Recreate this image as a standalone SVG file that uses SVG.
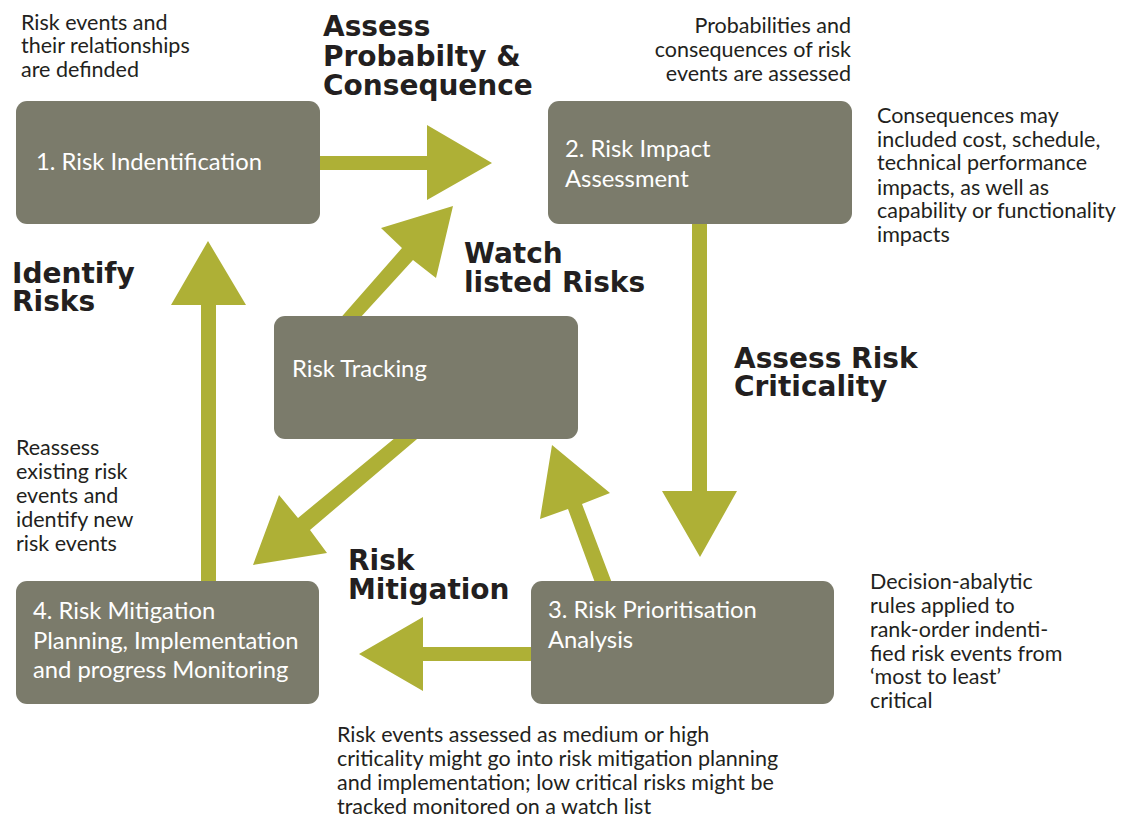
<svg xmlns="http://www.w3.org/2000/svg" width="1128" height="819" viewBox="0 0 1128 819">
<style>
.box{fill:#7b7b6b;}
.arrow{fill:#aeb036;}
.bt{font-family:Lato,"Liberation Sans",sans-serif;font-size:23.8px;fill:#ffffff;}
.d{font-family:Lato,"Liberation Sans",sans-serif;font-size:21.5px;fill:#231f20;}
.b{font-family:"DejaVu Sans","Liberation Sans",sans-serif;font-size:28px;font-weight:bold;fill:#231f20;}
</style>
<rect width="1128" height="819" fill="#ffffff"/>
<g id="connectors">
<polygon class="arrow" points="310,156 427,156 427,125 492,163 427,200 427,170 310,170"/>
<polygon class="arrow" points="692,214 707,214 707,491 737,491 700,557 662,491 692,491"/>
<polygon class="arrow" points="541,647 423,647 423,617 359,654 423,691 423,661 541,661"/>
<polygon class="arrow" points="201,591 201,305 171,305 208,241 246,305 216,305 216,591"/>
<polygon class="arrow" points="598,591 568,509 540,519 552,445 610,493 582,504 615,591"/>
<polygon class="arrow" points="407,428 430,428 310,530 327,553 253,565 279,495 298,518"/>
<polygon class="arrow" points="330,330 402,248 381,228 453,206 436,278 413,260 349,330"/>
</g>
<g id="node1">
<rect class="box" x="16" y="101" width="304" height="123" rx="11"/>
<text class="bt" x="36" y="170">1. Risk Indentification</text>
</g>
<g id="node2">
<rect class="box" x="548" y="101" width="304" height="123" rx="11"/>
<text class="bt" x="565" y="157">2. Risk Impact</text>
<text class="bt" x="565" y="187">Assessment</text>
</g>
<g id="tracking">
<rect class="box" x="274" y="316" width="304" height="123" rx="11"/>
<text class="bt" x="292" y="377">Risk Tracking</text>
</g>
<g id="node3">
<rect class="box" x="531" y="581" width="303" height="123" rx="11"/>
<text class="bt" x="548" y="618">3. Risk Prioritisation</text>
<text class="bt" x="548" y="648">Analysis</text>
</g>
<g id="node4">
<rect class="box" x="16" y="581" width="303" height="123" rx="11"/>
<text class="bt" x="33" y="619">4. Risk Mitigation</text>
<text class="bt" x="33" y="649">Planning, Implementation</text>
<text class="bt" x="33" y="678">and progress Monitoring</text>
</g>
<g id="labels">
<text class="b" x="323" y="36">Assess</text>
<text class="b" x="323" y="66">Probabilty &amp;</text>
<text class="b" x="323" y="95">Consequence</text>
<text class="b" x="464" y="263">Watch</text>
<text class="b" x="464" y="292">listed Risks</text>
<text class="b" x="12" y="283">Identify</text>
<text class="b" x="12" y="311">Risks</text>
<text class="b" x="734" y="368">Assess Risk</text>
<text class="b" x="734" y="396">Criticality</text>
<text class="b" x="348" y="570">Risk</text>
<text class="b" x="348" y="599">Mitigation</text>
</g>
<g id="notes">
<text class="d" x="21" y="30">Risk events and</text>
<text class="d" x="21" y="53">their relationships</text>
<text class="d" x="21" y="77">are definded</text>
<text class="d" x="851" y="33" text-anchor="end">Probabilities and</text>
<text class="d" x="851" y="57" text-anchor="end">consequences of risk</text>
<text class="d" x="851" y="81" text-anchor="end">events are assessed</text>
<text class="d" x="877" y="123">Consequences may</text>
<text class="d" x="877" y="147">included cost, schedule,</text>
<text class="d" x="877" y="170">technical performance</text>
<text class="d" x="877" y="195">impacts, as well as</text>
<text class="d" x="877" y="218">capability or functionality</text>
<text class="d" x="877" y="242">impacts</text>
<text class="d" x="16" y="455">Reassess</text>
<text class="d" x="16" y="479">existing risk</text>
<text class="d" x="16" y="503">events and</text>
<text class="d" x="16" y="527">identify new</text>
<text class="d" x="16" y="551">risk events</text>
<text class="d" x="870" y="589">Decision-abalytic</text>
<text class="d" x="870" y="613">rules applied to</text>
<text class="d" x="870" y="637">rank-order indenti-</text>
<text class="d" x="870" y="661">fied risk events from</text>
<text class="d" x="870" y="684">‘most to least’</text>
<text class="d" x="870" y="708">critical</text>
<text class="d" x="337" y="742">Risk events assessed as medium or high</text>
<text class="d" x="337" y="766">criticality might go into risk mitigation planning</text>
<text class="d" x="337" y="790">and implementation; low critical risks might be</text>
<text class="d" x="337" y="814">tracked monitored on a watch list</text>
</g>
</svg>
